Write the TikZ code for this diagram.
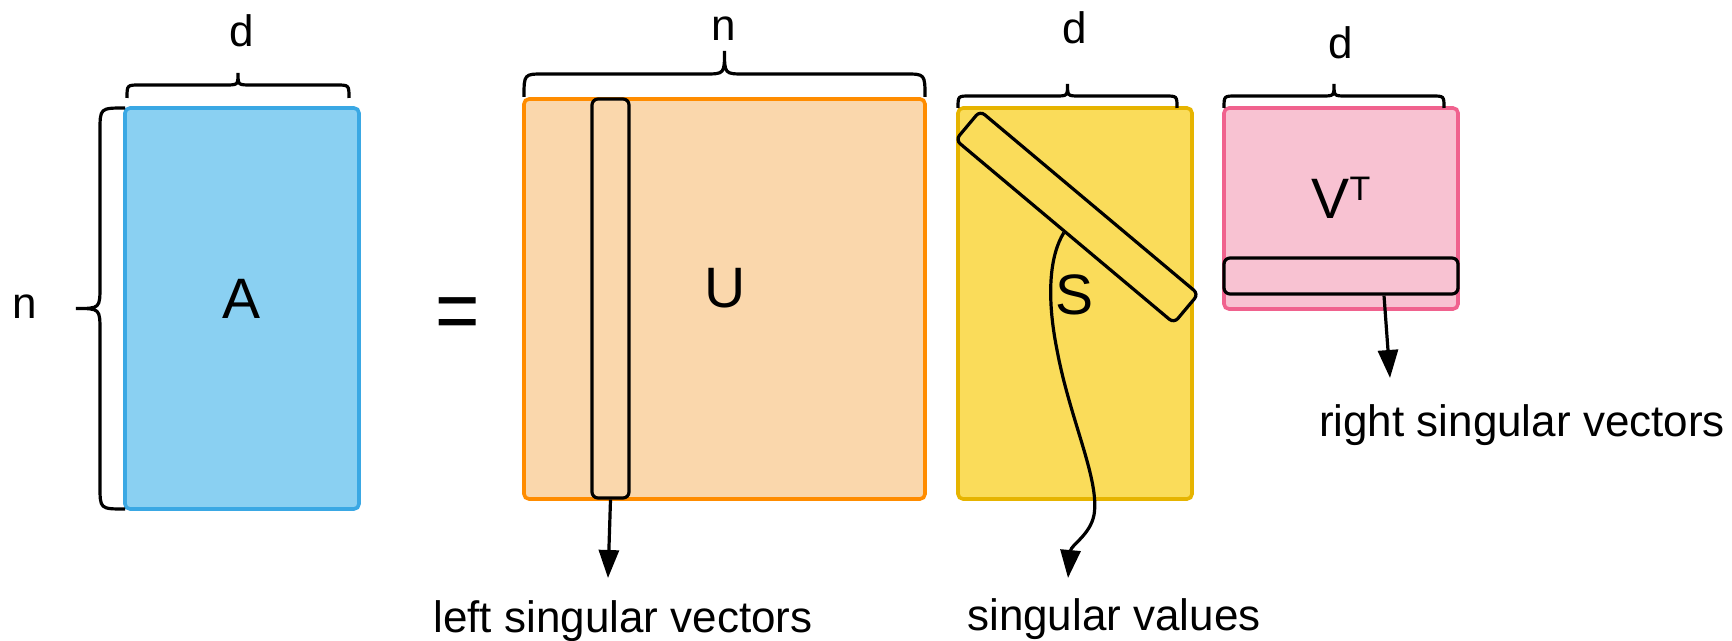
\documentclass[tikz,border=0pt]{standalone}
\usepackage{fontspec}
\usepackage{graphicx}
\setmainfont{Liberation Sans}
\usetikzlibrary{arrows.meta}
\definecolor{aFill}{RGB}{138,208,242}
\definecolor{aLine}{RGB}{58,168,228}
\definecolor{uFill}{RGB}{250,215,172}
\definecolor{uLine}{RGB}{255,140,0}
\definecolor{sFill}{RGB}{250,220,90}
\definecolor{sLine}{RGB}{230,180,0}
\definecolor{vFill}{RGB}{248,194,210}
\definecolor{vLine}{RGB}{240,98,142}
\newcommand{\mybraceH}[6]{%
  \draw[brc] (#1,#3) .. controls (#1,#4) .. ({#1+#6},#4) -- ({(#1+#2)/2-#6},#4)
    .. controls ({(#1+#2)/2},#4) .. ({(#1+#2)/2},#5)
    .. controls ({(#1+#2)/2},#4) .. ({(#1+#2)/2+#6},#4) -- ({#2-#6},#4)
    .. controls (#2,#4) .. (#2,#3);}
\newcommand{\mybraceV}[6]{%
  \draw[brc] (#3,#1) .. controls (#4,#1) .. (#4,{#1+#6}) -- (#4,{(#1+#2)/2-#6})
    .. controls (#4,{(#1+#2)/2}) .. (#5,{(#1+#2)/2})
    .. controls (#4,{(#1+#2)/2}) .. (#4,{(#1+#2)/2+#6}) -- (#4,{#2-#6})
    .. controls (#4,#2) .. (#3,#2);}
\begin{document}
\begin{tikzpicture}[x=0.5pt,y=-0.5pt,
  mat/.style={rounded corners=2.5pt, line width=1.8pt, inner sep=0pt},
  sel/.style={draw=black, rounded corners=3pt, line width=1.6pt, inner sep=0pt},
  brc/.style={line width=1.6pt, black},
  arr/.style={-{Triangle[width=10pt,length=14pt]}, line width=1.6pt},
  lbl/.style={font=\fontsize{22}{26}\selectfont, inner sep=0pt},
  big/.style={font=\fontsize{28.5}{32}\selectfont, inner sep=0pt}]
\useasboundingbox (0,0) rectangle (1732,641);
% matrices
\node[mat, draw=aLine, fill=aFill, minimum width=117pt, minimum height=200.5pt] (A) at (242,308.5) {};
\node[mat, draw=uLine, fill=uFill, minimum width=200.5pt, minimum height=200pt] (U) at (724.5,299) {};
\node[mat, draw=sLine, fill=sFill, minimum width=117pt, minimum height=195.5pt] (S) at (1075,303.5) {};
\node[mat, draw=vLine, fill=vFill, minimum width=117pt, minimum height=100.5pt] (V) at (1341,208.5) {};
% letters
\node[big] (Alab) at (242,298.5) {A};
\node[big] (Ulab) at (725,288.5) {U};
\node[font=\fontsize{38}{40}\selectfont, inner sep=0pt, anchor=base] (eq) at (458,341) {\scalebox{1}[1.15]{=}};
% selections
\node[sel, fill=uFill, minimum width=18.5pt, minimum height=199.5pt] (col) at (610.5,298.5) {};
\node[sel, fill=sFill, minimum width=142.5pt, minimum height=19pt, rotate=-40] (diag) at (1077,217) {};
\node[big] (Slab) at (1074,294.5) {S};
\node[big, anchor=base] (Vlab) at (1341,219) {V\raisebox{9.35pt}{\fontsize{17}{18}\selectfont T}};
\node[sel, fill=vFill, minimum width=117pt, minimum height=18pt] (row) at (1341,276) {};
% braces
\mybraceH{127}{349}{98}{85}{73}{13}
\mybraceV{108}{509}{125}{100}{76}{23}
\mybraceH{524}{925}{97}{74}{51}{20}
\mybraceH{958}{1177}{108}{96}{84}{12}
\mybraceH{1224}{1444}{108}{96}{84}{12}
% dimension labels
\node[lbl] (dA) at (242,31) {d};
\node[lbl] (nA) at (25,307) {n};
\node[lbl] (nU) at (724,29) {n};
\node[lbl] (dS) at (1074.5,28) {d};
\node[lbl] (dV) at (1340.5,43) {d};
% arrows
\coordinate (lend) at (608,578);
\coordinate (rend) at (1390,378);
\coordinate (send) at (1068,578);
\draw[arr] (col.south) -- (lend);
\draw[arr] ([xshift=21.5pt]row.south) -- (rend);
\draw[arr] (diag.south) .. controls (1050,255) and (1046,295) .. (1057,350)
  .. controls (1070,420) and (1100,480) .. (1094,515)
  .. controls (1090,535) and (1071,545) .. (send);
% captions
\node[lbl] (ltxt) at (623,621) {left singular vectors};
\node[lbl] (stxt) at (1114,619) {singular values};
\node[lbl] (rtxt) at (1522,425) {right singular vectors};
\end{tikzpicture}
\end{document}
